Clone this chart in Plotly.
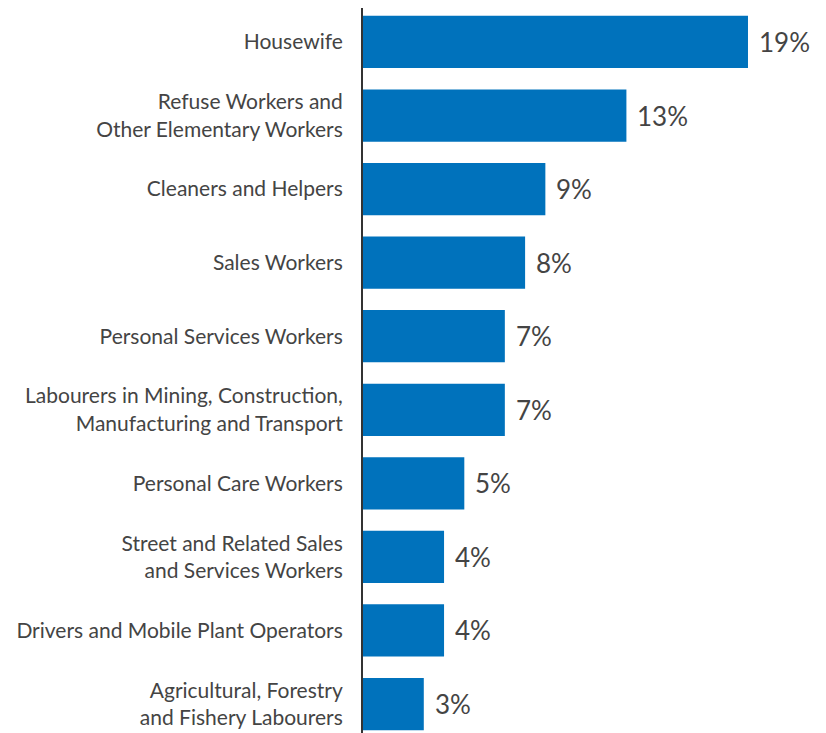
import plotly.graph_objects as go

categories = [
    "Housewife",
    "Refuse Workers and<br>Other Elementary Workers",
    "Cleaners and Helpers",
    "Sales Workers",
    "Personal Services Workers",
    "Labourers in Mining, Construction,<br>Manufacturing and Transport",
    "Personal Care Workers",
    "Street and Related Sales<br>and Services Workers",
    "Drivers and Mobile Plant Operators",
    "Agricultural, Forestry<br>and Fishery Labourers",
]
values = [19, 13, 9, 8, 7, 7, 5, 4, 4, 3]
value_labels = [f"{v}%" for v in values]

fig = go.Figure(
    go.Bar(
        x=values,
        y=categories,
        orientation="h",
        marker=dict(color="#0072BC", line=dict(width=0)),
        width=0.71,
        hoverinfo="skip",
    )
)

for cat, v, lab in zip(categories, values, value_labels):
    fig.add_annotation(
        x=v, y=cat, text=lab, showarrow=False,
        xanchor="left", yanchor="middle", xshift=9,
        font=dict(family="Lato", size=26, color="#444444"),
    )

fig.update_layout(
    width=818,
    height=725,
    margin=dict(l=355, r=0, t=0, b=0),
    paper_bgcolor="white",
    plot_bgcolor="white",
    showlegend=False,
    font=dict(family="Lato", size=21, color="#444444"),
)
fig.update_xaxes(range=[0, 22.85], visible=False, showgrid=False, zeroline=False,
                 automargin=False)
fig.update_yaxes(
    categoryorder="array",
    categoryarray=categories,
    range=[9.394, -0.462],
    automargin=False,
    showline=True,
    linecolor="#333333",
    linewidth=2,
    showgrid=False,
    zeroline=False,
    ticks="outside",
    ticklen=14,
    tickcolor="rgba(0,0,0,0)",
    tickfont=dict(family="Lato", size=21, color="#444444"),
)

fig.write_html("out.html")
